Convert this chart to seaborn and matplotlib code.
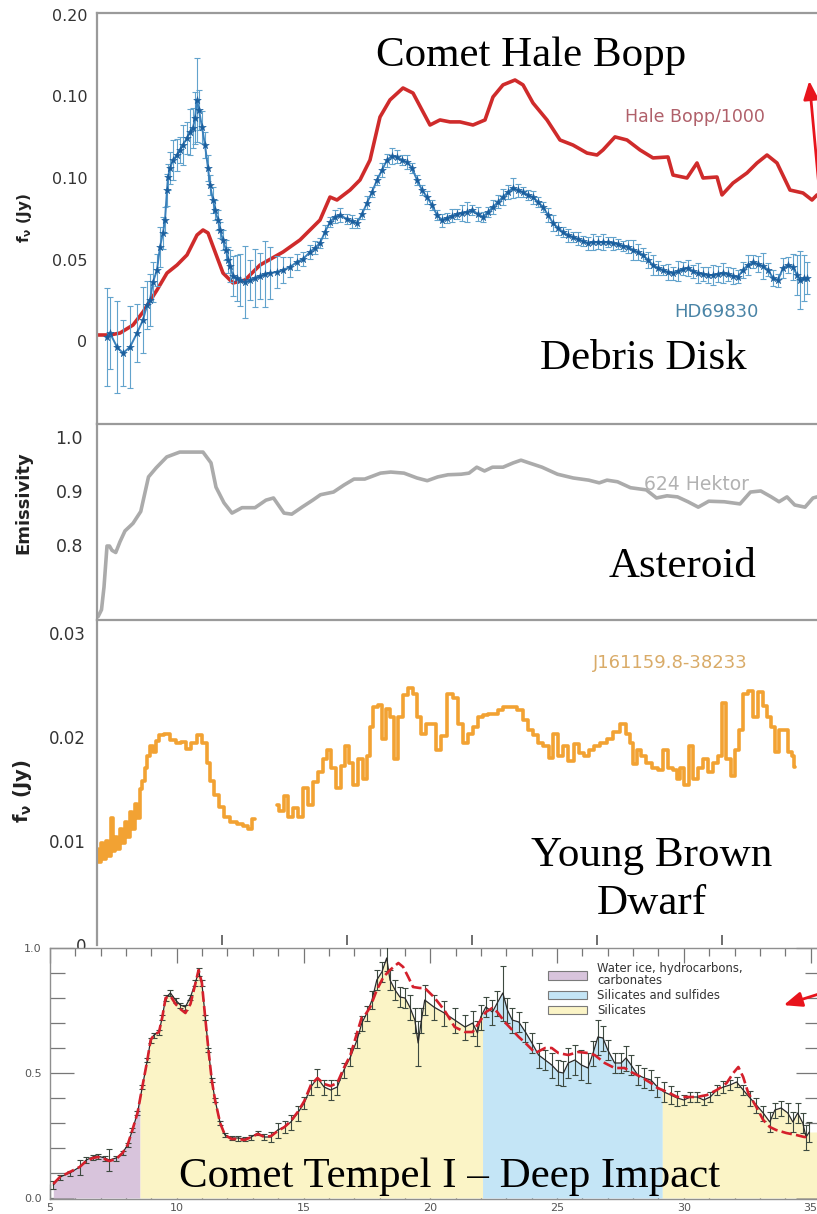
import numpy as np
import matplotlib
matplotlib.use("Agg")
import matplotlib.pyplot as plt
import seaborn as sns
from matplotlib.patches import Patch, FancyArrowPatch
from matplotlib.ticker import MultipleLocator

# ---------------- Comet Hale-Bopp (flux / 1000) ----------------
hb_wave = [5.00, 5.52, 5.92, 6.44, 6.84, 7.40, 7.80, 8.20, 8.60, 9.00,
           9.24, 9.44, 9.80, 10.04, 10.44, 10.92, 11.52, 12.44, 13.12, 13.92,
           14.32, 14.60, 15.12, 15.52, 15.92, 16.32, 16.72, 17.24, 17.64, 18.00,
           18.32, 18.72, 19.12, 19.52, 20.04, 20.52, 20.84, 21.24, 21.72, 22.04,
           22.44, 23.00, 23.52, 24.04, 24.60, 25.00, 25.24, 25.72, 26.20, 26.72,
           27.24, 27.84, 28.04, 28.60, 29.00, 29.24, 29.80, 30.00, 30.44, 31.00,
           31.40, 31.80, 32.20, 32.72, 33.24, 33.60, 33.80]
hb_flux = [0.0037, 0.0037, 0.0049, 0.0098, 0.0178, 0.0313, 0.0417, 0.0466, 0.0528, 0.0650,
           0.0681, 0.0663, 0.0515, 0.0417, 0.0356, 0.0374, 0.0466, 0.0546, 0.0620, 0.0742,
           0.0883, 0.0865, 0.0926, 0.0988, 0.1110, 0.1374, 0.1479, 0.1552, 0.1521, 0.1417,
           0.1325, 0.1356, 0.1344, 0.1344, 0.1325, 0.1356, 0.1497, 0.1571, 0.1601, 0.1571,
           0.1460, 0.1356, 0.1233, 0.1202, 0.1153, 0.1141, 0.1172, 0.1252, 0.1233, 0.1172,
           0.1123, 0.1129, 0.1018, 0.1000, 0.1092, 0.1000, 0.1006, 0.0896, 0.0969, 0.1031,
           0.1092, 0.1141, 0.1092, 0.0926, 0.0908, 0.0865, 0.0896]

# ---------------- Debris disk HD69830 ----------------
hd_wave = [5.40, 5.52, 5.80, 6.04, 6.32, 6.60, 6.84, 7.00, 7.12, 7.24,
           7.40, 7.52, 7.64, 7.72, 7.80, 7.84, 7.92, 8.04, 8.20, 8.32,
           8.44, 8.60, 8.72, 8.84, 8.92, 9.00, 9.08, 9.20, 9.32, 9.44,
           9.52, 9.64, 9.72, 9.84, 9.92, 10.04, 10.16, 10.24, 10.32, 10.44,
           10.60, 10.72, 10.92, 11.12, 11.32, 11.52, 11.72, 11.92, 12.20, 12.44,
           12.72, 13.00, 13.24, 13.52, 13.72, 13.92, 14.12, 14.32, 14.52, 14.72,
           15.00, 15.20, 15.40, 15.60, 15.80, 16.00, 16.20, 16.40, 16.60, 16.80,
           17.00, 17.20, 17.40, 17.60, 17.80, 18.00, 18.20, 18.40, 18.60, 18.80,
           19.00, 19.20, 19.40, 19.60, 19.80, 20.00, 20.24, 20.44, 20.64, 20.84,
           21.04, 21.24, 21.44, 21.64, 21.84, 22.04, 22.24, 22.44, 22.64, 22.84,
           23.04, 23.24, 23.44, 23.64, 23.84, 24.04, 24.24, 24.44, 24.64, 24.84,
           25.04, 25.24, 25.44, 25.64, 25.84, 26.04, 26.24, 26.44, 26.64, 26.84,
           27.04, 27.24, 27.44, 27.64, 27.84, 28.04, 28.24, 28.44, 28.64, 28.84,
           29.04, 29.24, 29.44, 29.64, 29.84, 30.04, 30.24, 30.44, 30.64, 30.84,
           31.04, 31.24, 31.44, 31.64, 31.84, 32.04, 32.24, 32.44, 32.64, 32.84,
           33.00, 33.12, 33.28, 33.40]
hd_flux = [0.0025, 0.0049, -0.0037, -0.0074, -0.0037, 0.0049, 0.0129, 0.0221, 0.0252, 0.0362,
           0.0436, 0.0577, 0.0663, 0.0742, 0.0926, 0.1006, 0.1061, 0.1110, 0.1141, 0.1172,
           0.1202, 0.1245, 0.1282, 0.1307, 0.1368, 0.1479, 0.1417, 0.1313, 0.1202, 0.1061,
           0.0957, 0.0865, 0.0804, 0.0742, 0.0681, 0.0620, 0.0558, 0.0497, 0.0460, 0.0399,
           0.0387, 0.0374, 0.0362, 0.0374, 0.0387, 0.0399, 0.0411, 0.0417, 0.0423, 0.0436,
           0.0454, 0.0485, 0.0503, 0.0546, 0.0571, 0.0601, 0.0669, 0.0730, 0.0761, 0.0773,
           0.0748, 0.0736, 0.0724, 0.0779, 0.0847, 0.0914, 0.0988, 0.1049, 0.1110, 0.1135,
           0.1129, 0.1110, 0.1098, 0.1061, 0.0988, 0.0926, 0.0883, 0.0834, 0.0773, 0.0742,
           0.0755, 0.0767, 0.0779, 0.0785, 0.0791, 0.0804, 0.0779, 0.0761, 0.0791, 0.0822,
           0.0853, 0.0883, 0.0914, 0.0939, 0.0926, 0.0914, 0.0896, 0.0883, 0.0853, 0.0822,
           0.0773, 0.0724, 0.0693, 0.0669, 0.0650, 0.0638, 0.0626, 0.0613, 0.0601, 0.0607,
           0.0607, 0.0607, 0.0607, 0.0601, 0.0595, 0.0583, 0.0577, 0.0558, 0.0546, 0.0528,
           0.0497, 0.0466, 0.0448, 0.0436, 0.0423, 0.0417, 0.0429, 0.0442, 0.0448, 0.0429,
           0.0417, 0.0411, 0.0405, 0.0405, 0.0411, 0.0417, 0.0411, 0.0399, 0.0393, 0.0436,
           0.0466, 0.0485, 0.0472, 0.0460, 0.0436, 0.0387, 0.0374, 0.0448, 0.0466, 0.0454,
           0.0405, 0.0374, 0.0387, 0.0387]
hd_err = [0.030, 0.022, 0.028, 0.020, 0.025, 0.018, 0.020, 0.015, 0.016, 0.012,
          0.010, 0.012, 0.010, 0.008, 0.010, 0.008, 0.010, 0.012, 0.010, 0.008,
          0.012, 0.010, 0.014, 0.012, 0.016, 0.026, 0.012, 0.010, 0.008, 0.008,
          0.006, 0.008, 0.006, 0.006, 0.005, 0.006, 0.006, 0.008, 0.010, 0.012,
          0.014, 0.016, 0.022, 0.012, 0.018, 0.014, 0.020, 0.016, 0.010, 0.008,
          0.006, 0.005, 0.004, 0.004, 0.004, 0.003, 0.004, 0.003, 0.004, 0.004,
          0.003, 0.004, 0.003, 0.003, 0.004, 0.003, 0.003, 0.004, 0.004, 0.005,
          0.004, 0.003, 0.004, 0.003, 0.003, 0.003, 0.004, 0.003, 0.003, 0.004,
          0.003, 0.004, 0.003, 0.005, 0.006, 0.003, 0.004, 0.003, 0.003, 0.004,
          0.004, 0.005, 0.004, 0.006, 0.004, 0.003, 0.003, 0.004, 0.003, 0.003,
          0.004, 0.005, 0.004, 0.003, 0.004, 0.003, 0.004, 0.003, 0.004, 0.005,
          0.004, 0.005, 0.003, 0.004, 0.003, 0.003, 0.004, 0.006, 0.005, 0.004,
          0.005, 0.006, 0.004, 0.003, 0.005, 0.004, 0.006, 0.004, 0.005, 0.004,
          0.006, 0.004, 0.005, 0.006, 0.005, 0.006, 0.004, 0.005, 0.004, 0.005,
          0.006, 0.004, 0.005, 0.008, 0.004, 0.005, 0.004, 0.006, 0.005, 0.008,
          0.012, 0.018, 0.014, 0.010]

# ---------------- Asteroid 624 Hektor ----------------
hek_wave = [5.04, 5.18, 5.28, 5.40, 5.50, 5.60, 5.75, 5.92, 6.12, 6.44,
            6.75, 7.06, 7.37, 7.79, 8.31, 9.24, 9.56, 9.76, 10.08, 10.40,
            10.80, 11.32, 11.76, 12.06, 12.48, 12.79, 13.20, 13.63, 13.94, 14.46,
            14.88, 15.28, 15.71, 16.34, 16.75, 17.28, 17.80, 18.21, 18.63, 19.04,
            19.57, 19.88, 20.19, 20.50, 20.82, 21.24, 21.65, 21.96, 22.28, 22.80,
            23.42, 24.05, 24.67, 25.09, 25.40, 25.82, 26.34, 26.97, 27.38, 27.80,
            28.22, 28.64, 29.05, 29.47, 30.09, 30.72, 31.14, 31.55, 31.97, 32.28,
            32.60, 32.91, 33.32, 33.64, 33.80]
hek_emis = [0.667, 0.680, 0.722, 0.798, 0.798, 0.790, 0.786, 0.806, 0.826, 0.840,
            0.862, 0.926, 0.943, 0.963, 0.972, 0.972, 0.952, 0.907, 0.878, 0.859,
            0.869, 0.869, 0.883, 0.887, 0.859, 0.857, 0.870, 0.883, 0.893, 0.898,
            0.911, 0.922, 0.922, 0.933, 0.935, 0.933, 0.924, 0.919, 0.926, 0.930,
            0.931, 0.933, 0.944, 0.937, 0.944, 0.944, 0.952, 0.957, 0.952, 0.944,
            0.931, 0.924, 0.920, 0.915, 0.920, 0.917, 0.906, 0.902, 0.887, 0.891,
            0.889, 0.880, 0.870, 0.881, 0.880, 0.876, 0.898, 0.900, 0.889, 0.880,
            0.889, 0.874, 0.870, 0.887, 0.889]

# ---------------- Young brown dwarf J161159.8-38233 (two IRS orders) ----------------
bd_wave_a = [5.00, 5.10, 5.20, 5.30, 5.40, 5.50, 5.58, 5.66, 5.76, 5.86,
             5.96, 6.06, 6.16, 6.26, 6.36, 6.46, 6.56, 6.66, 6.76, 6.86,
             6.96, 7.05, 7.19, 7.29, 7.39, 7.59, 7.79, 8.05, 8.25, 8.45,
             8.65, 8.85, 9.12, 9.32, 9.45, 9.59, 9.79, 9.99, 10.19, 10.45,
             10.72, 10.92, 11.12, 11.32]
bd_flux_a = [0.0092, 0.0080, 0.0098, 0.0083, 0.0100, 0.0086, 0.0122, 0.0090, 0.0104, 0.0092,
             0.0112, 0.0098, 0.0118, 0.0104, 0.0128, 0.0112, 0.0136, 0.0122, 0.0150, 0.0158,
             0.0170, 0.0182, 0.0191, 0.0186, 0.0196, 0.0202, 0.0203, 0.0197, 0.0194, 0.0195,
             0.0189, 0.0194, 0.0202, 0.0194, 0.0175, 0.0158, 0.0144, 0.0133, 0.0123, 0.0118,
             0.0116, 0.0114, 0.0112, 0.0121]
bd_wave_b = [12.19, 12.39, 12.59, 12.72, 12.92, 13.12, 13.32, 13.52, 13.72, 13.92,
             14.12, 14.25, 14.45, 14.65, 14.85, 14.99, 15.19, 15.32, 15.52, 15.72,
             15.85, 15.99, 16.12, 16.32, 16.45, 16.65, 16.79, 16.99, 17.12, 17.32,
             17.52, 17.72, 17.85, 18.05, 18.25, 18.45, 18.65, 18.85, 19.12, 19.32,
             19.52, 19.72, 19.92, 20.12, 20.32, 20.52, 20.72, 20.92, 21.12, 21.39,
             21.65, 21.92, 22.12, 22.32, 22.52, 22.72, 22.99, 23.19, 23.32, 23.52,
             23.72, 23.99, 24.19, 24.39, 24.59, 24.79, 24.99, 25.25, 25.52, 25.79,
             26.05, 26.25, 26.39, 26.52, 26.65, 26.85, 27.05, 27.32, 27.59, 27.72,
             27.92, 28.12, 28.25, 28.39, 28.59, 28.79, 28.92, 29.12, 29.32, 29.52,
             29.72, 29.92, 30.05, 30.25, 30.45, 30.59, 30.79, 30.92, 31.12, 31.32,
             31.52, 31.72, 31.85, 32.05, 32.19, 32.39, 32.59, 32.72, 32.85, 32.92]
bd_flux_b = [0.0135, 0.0129, 0.0143, 0.0123, 0.0132, 0.0123, 0.0151, 0.0135, 0.0157, 0.0166,
             0.0179, 0.0188, 0.0170, 0.0151, 0.0172, 0.0191, 0.0175, 0.0154, 0.0179, 0.0160,
             0.0182, 0.0210, 0.0229, 0.0231, 0.0198, 0.0227, 0.0219, 0.0179, 0.0219, 0.0240,
             0.0247, 0.0241, 0.0219, 0.0203, 0.0213, 0.0213, 0.0188, 0.0201, 0.0241, 0.0238,
             0.0213, 0.0194, 0.0203, 0.0210, 0.0219, 0.0221, 0.0222, 0.0222, 0.0226, 0.0229,
             0.0229, 0.0226, 0.0216, 0.0207, 0.0202, 0.0194, 0.0191, 0.0180, 0.0203, 0.0182,
             0.0191, 0.0177, 0.0193, 0.0185, 0.0182, 0.0188, 0.0191, 0.0194, 0.0198, 0.0205,
             0.0213, 0.0203, 0.0194, 0.0174, 0.0188, 0.0182, 0.0175, 0.0170, 0.0168, 0.0188,
             0.0170, 0.0168, 0.0160, 0.0170, 0.0154, 0.0191, 0.0160, 0.0170, 0.0179, 0.0166,
             0.0175, 0.0182, 0.0233, 0.0179, 0.0163, 0.0188, 0.0207, 0.0241, 0.0244, 0.0219,
             0.0243, 0.0230, 0.0219, 0.0210, 0.0186, 0.0207, 0.0207, 0.0186, 0.0182, 0.0171]

# ---------------- Comet Tempel 1 (Deep Impact ejecta) ----------------
t1_wave = [5.13, 5.39, 5.78, 6.17, 6.43, 6.69, 6.89, 7.15, 7.34, 7.61,
           7.86, 8.06, 8.25, 8.45, 8.64, 8.84, 8.97, 9.10, 9.30, 9.43,
           9.56, 9.75, 9.95, 10.14, 10.34, 10.54, 10.73, 10.86, 10.99, 11.12,
           11.25, 11.38, 11.51, 11.71, 11.90, 12.16, 12.42, 12.68, 12.94, 13.20,
           13.46, 13.72, 13.98, 14.25, 14.50, 14.77, 15.03, 15.29, 15.55, 15.81,
           16.07, 16.33, 16.59, 16.85, 17.11, 17.30, 17.50, 17.70, 17.89, 18.09,
           18.28, 18.41, 18.61, 18.80, 19.00, 19.19, 19.39, 19.52, 19.65, 19.78,
           20.14, 20.55, 20.96, 21.37, 21.67, 21.86, 21.99, 22.19, 22.45, 22.64,
           22.86, 23.04, 23.23, 23.49, 23.75, 24.01, 24.27, 24.53, 24.79, 25.05,
           25.25, 25.44, 25.70, 25.96, 26.22, 26.42, 26.61, 26.81, 27.00, 27.27,
           27.53, 27.72, 27.92, 28.18, 28.44, 28.70, 28.96, 29.22, 29.48, 29.74,
           30.00, 30.26, 30.52, 30.78, 31.04, 31.30, 31.56, 31.82, 32.08, 32.34,
           32.61, 32.86, 33.13, 33.39, 33.59, 33.84, 34.10, 34.30, 34.49, 34.69,
           34.82, 34.95]
t1_flux = [0.052, 0.084, 0.100, 0.124, 0.152, 0.164, 0.168, 0.160, 0.152, 0.160,
           0.180, 0.212, 0.272, 0.340, 0.444, 0.552, 0.632, 0.652, 0.664, 0.724,
           0.800, 0.820, 0.792, 0.772, 0.764, 0.804, 0.860, 0.904, 0.860, 0.724,
           0.592, 0.472, 0.392, 0.300, 0.252, 0.240, 0.240, 0.236, 0.244, 0.260,
           0.244, 0.244, 0.272, 0.284, 0.304, 0.340, 0.380, 0.444, 0.480, 0.444,
           0.432, 0.444, 0.512, 0.564, 0.632, 0.700, 0.740, 0.792, 0.872, 0.904,
           0.960, 0.872, 0.832, 0.804, 0.800, 0.764, 0.712, 0.620, 0.712, 0.792,
           0.764, 0.740, 0.712, 0.684, 0.700, 0.660, 0.724, 0.764, 0.744, 0.780,
           0.820, 0.752, 0.712, 0.704, 0.664, 0.620, 0.572, 0.552, 0.532, 0.504,
           0.500, 0.540, 0.552, 0.532, 0.520, 0.580, 0.644, 0.640, 0.592, 0.540,
           0.540, 0.560, 0.532, 0.492, 0.480, 0.472, 0.444, 0.424, 0.412, 0.400,
           0.392, 0.404, 0.404, 0.392, 0.404, 0.432, 0.444, 0.452, 0.464, 0.432,
           0.400, 0.372, 0.340, 0.304, 0.352, 0.360, 0.340, 0.304, 0.340, 0.300,
           0.244, 0.264]
t1_err = [0.015, 0.010, 0.010, 0.030, 0.012, 0.010, 0.010, 0.010, 0.045, 0.010,
          0.008, 0.008, 0.008, 0.008, 0.008, 0.008, 0.010, 0.010, 0.010, 0.010,
          0.012, 0.012, 0.010, 0.010, 0.010, 0.010, 0.012, 0.015, 0.012, 0.010,
          0.008, 0.008, 0.008, 0.008, 0.008, 0.008, 0.010, 0.008, 0.010, 0.008,
          0.012, 0.020, 0.030, 0.025, 0.030, 0.030, 0.025, 0.030, 0.035, 0.030,
          0.040, 0.030, 0.030, 0.035, 0.030, 0.030, 0.030, 0.035, 0.040, 0.040,
          0.050, 0.040, 0.040, 0.040, 0.040, 0.050, 0.050, 0.090, 0.050, 0.060,
          0.050, 0.050, 0.050, 0.050, 0.050, 0.050, 0.050, 0.040, 0.050, 0.050,
          0.110, 0.050, 0.050, 0.040, 0.040, 0.040, 0.050, 0.040, 0.050, 0.050,
          0.050, 0.060, 0.060, 0.060, 0.060, 0.050, 0.070, 0.050, 0.040, 0.040,
          0.040, 0.050, 0.040, 0.040, 0.040, 0.040, 0.040, 0.040, 0.035, 0.030,
          0.020, 0.020, 0.020, 0.020, 0.020, 0.020, 0.025, 0.020, 0.020, 0.020,
          0.030, 0.030, 0.030, 0.040, 0.030, 0.030, 0.040, 0.040, 0.040, 0.040,
          0.050, 0.040]
model_wave = [5.13, 5.39, 5.78, 6.17, 6.43, 6.69, 6.89, 7.15, 7.34, 7.61,
              7.86, 8.06, 8.25, 8.45, 8.64, 8.84, 8.97, 9.10, 9.30, 9.43,
              9.56, 9.75, 9.95, 10.14, 10.34, 10.54, 10.73, 10.86, 10.99, 11.12,
              11.25, 11.38, 11.51, 11.71, 11.90, 12.16, 12.42, 12.68, 12.94, 13.20,
              13.46, 13.72, 13.98, 14.25, 14.50, 14.77, 15.03, 15.29, 15.55, 15.81,
              16.07, 16.33, 16.59, 16.85, 17.11, 17.30, 17.43, 17.63, 17.89, 18.15,
              18.41, 18.74, 18.93, 19.13, 19.32, 19.58, 19.78, 20.14, 20.55, 20.96,
              21.37, 21.67, 21.99, 22.19, 22.45, 22.64, 22.97, 23.23, 23.49, 23.75,
              24.14, 24.53, 24.79, 25.05, 25.44, 25.83, 26.22, 26.48, 26.88, 27.27,
              27.66, 27.92, 28.31, 28.70, 28.96, 29.35, 29.74, 30.13, 30.52, 30.91,
              31.30, 31.69, 31.95, 32.15, 32.34, 32.54, 32.86, 33.13, 33.39, 33.64,
              34.04, 34.43, 34.75, 34.95]
model_flux = [0.056, 0.084, 0.104, 0.124, 0.148, 0.160, 0.164, 0.156, 0.148, 0.156,
              0.180, 0.212, 0.272, 0.340, 0.444, 0.552, 0.632, 0.652, 0.664, 0.724,
              0.800, 0.808, 0.776, 0.756, 0.740, 0.776, 0.856, 0.912, 0.860, 0.724,
              0.592, 0.472, 0.392, 0.300, 0.252, 0.236, 0.236, 0.232, 0.244, 0.256,
              0.244, 0.248, 0.268, 0.284, 0.308, 0.344, 0.388, 0.452, 0.480, 0.456,
              0.448, 0.460, 0.520, 0.572, 0.660, 0.724, 0.732, 0.764, 0.832, 0.884,
              0.912, 0.940, 0.924, 0.884, 0.844, 0.840, 0.840, 0.804, 0.752, 0.684,
              0.664, 0.664, 0.712, 0.744, 0.760, 0.744, 0.700, 0.672, 0.644, 0.620,
              0.580, 0.600, 0.600, 0.580, 0.572, 0.584, 0.580, 0.572, 0.540, 0.520,
              0.520, 0.504, 0.484, 0.460, 0.440, 0.424, 0.404, 0.404, 0.404, 0.412,
              0.432, 0.460, 0.500, 0.524, 0.484, 0.420, 0.364, 0.312, 0.284, 0.272,
              0.260, 0.252, 0.244, 0.244]

# Spectral regions shaded under the Tempel 1 spectrum
region_edges = [5.13, 8.55, 22.06, 29.15, 35.40]
region_colors = ["#d8c4dc", "#fbf4c6", "#c4e5f6", "#fbf4c6"]
legend_labels = ["Water ice, hydrocarbons,\ncarbonates", "Silicates and sulfides", "Silicates"]
legend_colors = ["#d8c4dc", "#c4e5f6", "#fbf4c6"]

W, H = 817, 1214

sns.set_style("white")
plt.rcParams["font.family"] = ["DejaVu Sans"]

fig = plt.figure(figsize=(W / 100, H / 100), dpi=100)
fig.patch.set_facecolor("white")


def box(l, t, r, b):
    return [l / W, 1 - b / H, (r - l) / W, (b - t) / H]


def fpt(x, y):
    return (x / W, 1 - y / H)


SPINE = "#9a9a9a"


def style_upper(ax):
    for s in ("right", "bottom"):
        ax.spines[s].set_visible(False)
    for s in ("left", "top"):
        ax.spines[s].set_color(SPINE)
        ax.spines[s].set_linewidth(1.6)
    ax.set_xlim(5.0, 34.0)
    ax.tick_params(axis="x", which="both", bottom=False, top=False, labelbottom=False)
    ax.set_xlabel("")
    ax.set_ylabel("")


# ---- Panel 1: Hale-Bopp and HD69830 ----
ax1 = fig.add_axes(box(97, 13, 822, 424))
sns.lineplot(x=hb_wave, y=hb_flux, ax=ax1, color="#cf2b2b", lw=2.6,
             estimator=None, sort=False)
ax1.errorbar(hd_wave, hd_flux, yerr=hd_err, fmt="none", ecolor="#62a3cc",
             elinewidth=0.8, capsize=2.5, capthick=0.8, zorder=3)
sns.lineplot(x=hd_wave, y=hd_flux, ax=ax1, color="#3a80bb", lw=1.4,
             estimator=None, sort=False, zorder=4)
sns.scatterplot(x=hd_wave, y=hd_flux, ax=ax1, marker="*", s=34,
                color="#1b5f9e", edgecolor="#1b5f9e", linewidth=0.3, zorder=5)
style_upper(ax1)
ax1.set_ylim(-0.0509, 0.2012)
ax1.set_yticks([0, 0.05, 0.10, 0.15, 0.20])
ax1.set_yticklabels(["0", "0.05", "0.10", "0.10", "0.20"])
ax1.tick_params(axis="y", which="major", direction="in", length=9.5, width=1.2,
                color="#8a8a8a", labelcolor="#333333", labelsize=11.5, pad=7)

# ---- Panel 2: 624 Hektor ----
ax2 = fig.add_axes(box(97, 424, 822, 620))
sns.lineplot(x=hek_wave, y=hek_emis, ax=ax2, color="#ababab", lw=2.6,
             estimator=None, sort=False)
style_upper(ax2)
ax2.set_ylim(0.661, 1.024)
ax2.set_yticks([0.8, 0.9, 1.0])
ax2.set_yticklabels(["0.8", "0.9", "1.0"])
ax2.yaxis.set_minor_locator(MultipleLocator(0.025))
ax2.tick_params(axis="y", which="major", direction="in", length=9.5, width=1.2,
                color="#8a8a8a", labelcolor="#333333", labelsize=12.5, pad=10)
ax2.tick_params(axis="y", which="minor", direction="in", length=5, width=1.0,
                color="#8a8a8a")

# ---- Panel 3: young brown dwarf ----
ax3 = fig.add_axes(box(97, 620, 822, 945))
for wv, fl in ((bd_wave_a, bd_flux_a), (bd_wave_b, bd_flux_b)):
    sns.lineplot(x=wv, y=fl, ax=ax3, color="#f2a233", lw=2.6,
                 drawstyle="steps-mid", estimator=None, sort=False)
style_upper(ax3)
ax3.set_ylim(0.00089, 0.03126)
ax3.set_yticks([0.0, 0.01, 0.02, 0.03])
ax3.set_yticklabels(["0", "0.01", "0.02", "0.03"])
ax3.yaxis.set_minor_locator(MultipleLocator(0.001))
ax3.tick_params(axis="y", which="major", direction="in", length=11, width=1.2,
                color="#8a8a8a", labelcolor="#333333", labelsize=12, pad=8)
ax3.tick_params(axis="y", which="minor", direction="in", length=6, width=1.0,
                color="#8a8a8a")
ax3.set_xticks([10, 15, 20, 25, 30])
ax3.tick_params(axis="x", which="major", bottom=True, direction="in", length=7,
                width=1.2, color="#555555", labelbottom=False)

# ---- Panel 4: Tempel 1 ----
ax4 = fig.add_axes(box(50, 948, 820, 1199))
ax4.set_zorder(5)
ax4.set_facecolor("white")
tw = np.asarray(t1_wave)
tf = np.asarray(t1_flux)
for lo, hi, col in zip(region_edges[:-1], region_edges[1:], region_colors):
    inside = (tw > lo) & (tw < hi)
    xs = np.concatenate([[lo], tw[inside], [hi]])
    ys = np.concatenate([[np.interp(lo, tw, tf)], tf[inside], [np.interp(hi, tw, tf)]])
    ax4.fill_between(xs, 0, ys, color=col, lw=0, zorder=1)
ax4.errorbar(t1_wave, t1_flux, yerr=t1_err, fmt="none", ecolor="#3d4a40",
             elinewidth=0.8, capsize=2.0, capthick=0.8, zorder=3)
sns.lineplot(x=t1_wave, y=t1_flux, ax=ax4, color="#2a2a2a", lw=0.9,
             estimator=None, sort=False, zorder=4)
sns.lineplot(x=model_wave, y=model_flux, ax=ax4, color="#d4202c", lw=1.9,
             estimator=None, sort=False, zorder=5, dashes=False,
             linestyle=(0, (4, 1.6)))
ax4.set_xlim(5.0, 35.37)
ax4.set_ylim(-0.004, 1.0)
ax4.set_xlabel("")
ax4.set_ylabel("")
ax4.set_xticks([5, 10, 15, 20, 25, 30, 35])
ax4.set_xticklabels(["5", "10", "15", "20", "25", "30", "35"])
ax4.xaxis.set_minor_locator(MultipleLocator(1))
ax4.set_yticks([0.0, 0.5, 1.0])
ax4.set_yticklabels(["0.0", "0.5", "1.0"])
ax4.yaxis.set_minor_locator(MultipleLocator(0.1))
for s in ax4.spines.values():
    s.set_color("#8f8f8f")
    s.set_linewidth(1.0)
ax4.tick_params(axis="x", which="major", direction="in", top=True, bottom=True,
                length=11, width=0.9, color="#777777", labelcolor="#555555",
                labelsize=8, pad=3)
ax4.tick_params(axis="x", which="minor", direction="in", top=True, bottom=True,
                length=6, width=0.9, color="#777777")
ax4.tick_params(axis="y", which="major", direction="in", left=True, right=True,
                length=17, width=0.9, color="#777777", labelcolor="#555555",
                labelsize=8, pad=6)
ax4.tick_params(axis="y", which="minor", direction="in", left=True, right=True,
                length=11, width=0.9, color="#777777")
handles = [Patch(facecolor=c, edgecolor="#7a7a7a", lw=0.8) for c in legend_colors]
leg = ax4.legend(handles, legend_labels, loc="upper left",
                 bbox_to_anchor=(0.647, 0.945), frameon=False, fontsize=8.4,
                 handlelength=3.3, handleheight=0.7, handletextpad=0.9,
                 labelspacing=0.15, borderaxespad=0.0, borderpad=0.0)
for t in leg.get_texts():
    t.set_color("#333333")
    t.set_linespacing(0.95)

# ---- axis titles ----
fig.text(*fpt(24, 218), r"$\mathbf{f_{\nu}}$ (Jy)", rotation=90, ha="center",
         va="center", fontsize=11, fontweight="bold", color="#222222", zorder=10)
fig.text(*fpt(23, 503), "Emissivity", rotation=90, ha="center", va="center",
         fontsize=13, fontweight="bold", color="#222222", zorder=10)
fig.text(*fpt(23, 791), r"$\mathbf{f_{\nu}}$ (Jy)", rotation=90, ha="center",
         va="center", fontsize=14, fontweight="bold", color="#222222", zorder=10)

# ---- series names ----
fig.text(*fpt(695, 117), "Hale Bopp/1000", ha="center", va="center",
         fontsize=12.5, color="#b0606a", zorder=10)
fig.text(*fpt(716, 312), "HD69830", ha="center", va="center",
         fontsize=13, color="#4a84a6", zorder=10)
fig.text(*fpt(697, 484), "624 Hektor", ha="center", va="center",
         fontsize=13.5, color="#b2b2b2", zorder=10)
fig.text(*fpt(670, 663), "J161159.8-38233", ha="center", va="center",
         fontsize=13, color="#d9ab68", zorder=10)

# ---- object classes ----
serif = dict(family="Liberation Serif", fontsize=31, color="black", zorder=10)
fig.text(*fpt(531, 56), "Comet Hale Bopp", ha="center", va="center", **serif)
fig.text(*fpt(643, 359), "Debris Disk", ha="center", va="center", **serif)
fig.text(*fpt(683, 567), "Asteroid", ha="center", va="center", **serif)
fig.text(*fpt(652, 880), "Young Brown\nDwarf", ha="center", va="center",
         multialignment="center", linespacing=1.32, **serif)
fig.text(*fpt(450, 1177), "Comet Tempel I \u2013 Deep Impact", ha="center",
         va="center", **serif)

# ---- pointer arrows ----
for tail, head in (((822, 220), (809, 78)), ((822, 993), (781, 1006))):
    fig.add_artist(FancyArrowPatch(fpt(*tail), fpt(*head), transform=fig.transFigure,
                                   arrowstyle="-|>,head_length=1.1,head_width=0.45",
                                   mutation_scale=10, color="#e8141c", lw=2.0,
                                   zorder=12))

fig.savefig("out.png", dpi=100, facecolor="white")
